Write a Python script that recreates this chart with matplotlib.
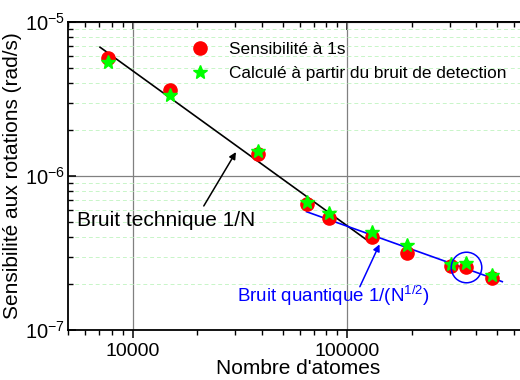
import math
import matplotlib
matplotlib.use("Agg")
import matplotlib.pyplot as plt
from matplotlib.ticker import LogLocator, NullFormatter, FixedLocator

plt.rcParams['font.family'] = ['Liberation Sans', 'DejaVu Sans']
plt.rcParams['mathtext.fontset'] = 'custom'
plt.rcParams['mathtext.rm'] = 'Liberation Sans'
plt.rcParams['mathtext.it'] = 'Liberation Sans'

# measured sensitivity at 1 s
atoms = [7700, 14900, 38400, 64700, 82200, 130000, 189000, 303000, 357000, 474000]
sens_1s = [5.81e-6, 3.62e-6, 1.38e-6, 6.58e-7, 5.31e-7, 4.04e-7, 3.15e-7, 2.60e-7, 2.58e-7, 2.17e-7]
# computed from detection noise
sens_det = [5.50e-6, 3.36e-6, 1.45e-6, 6.75e-7, 5.73e-7, 4.31e-7, 3.58e-7, 2.69e-7, 2.71e-7, 2.29e-7]

# fitted noise lines (end points)
tech_x = [7050, 125400]
tech_y = [6.86e-6, 3.78e-7]
quant_x = [64700, 527700]
quant_y = [5.86e-7, 2.06e-7]

# highlighted point
circ_x = [atoms[8]]
circ_y = [sens_1s[8]]

fig = plt.figure(figsize=(5.2, 3.8), dpi=100)
ax = fig.add_axes([68 / 520, 50 / 380, 460.6 / 520, 308 / 380])
ax.set_xscale('log')
ax.set_yscale('log')
ax.set_xlim(5000, 700000)
ax.set_ylim(1e-7, 1e-5)

ax.grid(True, which='major', color='#808080', linewidth=0.9)
ax.yaxis.grid(True, which='minor', color='#c8f5c8', linestyle=(0, (4, 3)), linewidth=0.7)
ax.xaxis.grid(False, which='minor')
ax.set_axisbelow(True)

ax.plot(tech_x, tech_y, color='black', linewidth=1.2, zorder=3)
ax.plot(quant_x, quant_y, color='#0000ff', linewidth=1.2, zorder=3)
ax.plot(atoms, sens_1s, 'o', color='#ff0000', markersize=9.5, linestyle='none',
        label='Sensibilité à 1s', zorder=4)
ax.plot(atoms, sens_det, '*', color='#00ff00', markersize=10, linestyle='none',
        label='Calculé à partir du bruit de detection', zorder=5)
ax.plot(circ_x, circ_y, 'o', markersize=22, markerfacecolor='none',
        markeredgecolor='#0000ff', markeredgewidth=1.1, zorder=6)

ax.annotate('', xy=(30300, 1.43e-6), xytext=(21460, 6.39e-7),
            arrowprops=dict(arrowstyle='-|>', color='black', lw=1.1,
                            mutation_scale=10, shrinkA=0, shrinkB=0))
ax.text(5508, 5.13e-7, 'Bruit technique 1/N', fontsize=15, ha='left', va='center')

ax.annotate('', xy=(141400, 3.60e-7), xytext=(114500, 1.91e-7),
            arrowprops=dict(arrowstyle='-|>', color='#0000ff', lw=1.1,
                            mutation_scale=10, shrinkA=0, shrinkB=0))
ax.text(30600, 1.66e-7, r'Bruit quantique 1/(N$^{1/2}$)', fontsize=13.5,
        color='#0000ff', ha='left', va='center')

leg = ax.legend(loc='upper left', bbox_to_anchor=(0.268, 0.936), frameon=False,
                fontsize=12.4, handlelength=1.0, handletextpad=1.19,
                borderpad=0, borderaxespad=0, labelspacing=0.55, numpoints=1)

# ticks
ax.xaxis.set_major_locator(FixedLocator([1e4, 1e5, 1e6]))
ax.xaxis.set_major_formatter(plt.FuncFormatter(lambda v, p: f'{int(v)}'))
ax.xaxis.set_minor_locator(LogLocator(base=10, subs=range(2, 10)))
ax.xaxis.set_minor_formatter(NullFormatter())
ax.yaxis.set_major_locator(FixedLocator([1e-7, 1e-6, 1e-5]))
ax.yaxis.set_major_formatter(plt.FuncFormatter(
    lambda v, p: r'$\mathregular{10^{%d}}$' % round(math.log10(v))))
ax.yaxis.set_minor_locator(LogLocator(base=10, subs=range(2, 10)))
ax.yaxis.set_minor_formatter(NullFormatter())

ax.tick_params(axis='x', which='major', direction='out', length=6, width=1.1,
               labelsize=14, pad=3)
ax.tick_params(axis='x', which='minor', direction='out', length=3.5, width=1.0)
ax.tick_params(axis='y', which='major', direction='in', length=6, width=1.1,
               labelsize=14.5, pad=2)
ax.tick_params(axis='y', which='minor', direction='in', length=3.5, width=1.0)

top = ax.secondary_xaxis('top')
top.xaxis.set_major_locator(FixedLocator([1e4, 1e5, 1e6]))
top.xaxis.set_minor_locator(LogLocator(base=10, subs=range(2, 10)))
top.xaxis.set_major_formatter(NullFormatter())
top.xaxis.set_minor_formatter(NullFormatter())
top.tick_params(which='major', direction='in', length=6, width=1.1)
top.tick_params(which='minor', direction='in', length=3.5, width=1.0)
top.spines['top'].set_linewidth(1.3)

for s in ax.spines.values():
    s.set_linewidth(1.3)

ax.set_xlabel("Nombre d'atomes", fontsize=15, labelpad=0)
ax.set_ylabel('Sensibilité aux rotations (rad/s)', fontsize=15, labelpad=2)

fig.savefig('out.png', dpi=100)
